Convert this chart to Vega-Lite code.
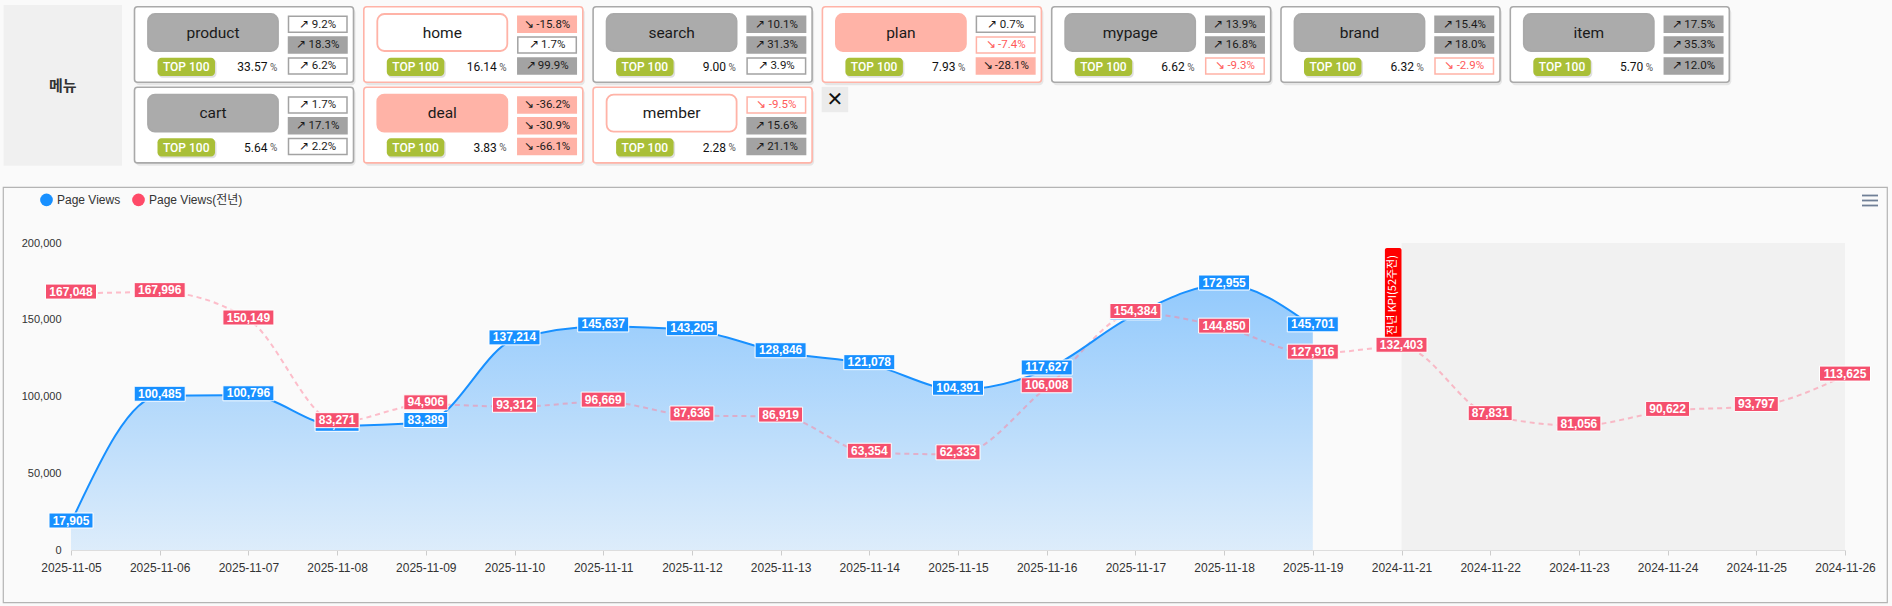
{
"$schema":"https://vega.github.io/schema/vega-lite/v6.json",
"width":1774,"height":307,
"autosize":{"type":"none"},
"padding":{"left":71,"top":243,"right":47,"bottom":56},
"background":"#fafafa",
"config":{
 "view":{"stroke":null},
 "font":"Liberation Sans",
 "axisX":{"labelAngle":0,"labelFontSize":12,"labelColor":"#333333","tickColor":"#cccccc","tickSize":5,"domainColor":"#dddddd","labelPadding":7.5,"grid":false,"labelOverlap":false,"labelFont":"Liberation Sans","labelBound":false},
 "axisY":{"labelFontSize":11,"labelColor":"#333333","domain":false,"ticks":false,"tickSize":0,"labelPadding":10,"grid":true,"gridDash":[3,3],"gridColor":"#e2e2e2","gridWidth":1,"labelFont":"Liberation Sans"}
},
"datasets":{
 "menus":[
  {"menu":"product","status":"up","share":33.57,"b1":9.2,"b2":18.3,"b3":6.2},
  {"menu":"home","status":"warn","share":16.14,"b1":-15.8,"b2":1.7,"b3":99.9},
  {"menu":"search","status":"up","share":9.00,"b1":10.1,"b2":31.3,"b3":3.9},
  {"menu":"plan","status":"down","share":7.93,"b1":0.7,"b2":-7.4,"b3":-28.1},
  {"menu":"mypage","status":"up","share":6.62,"b1":13.9,"b2":16.8,"b3":-9.3},
  {"menu":"brand","status":"up","share":6.32,"b1":15.4,"b2":18.0,"b3":-2.9},
  {"menu":"item","status":"up","share":5.70,"b1":17.5,"b2":35.3,"b3":12.0},
  {"menu":"cart","status":"up","share":5.64,"b1":1.7,"b2":17.1,"b3":2.2},
  {"menu":"deal","status":"down","share":3.83,"b1":-36.2,"b2":-30.9,"b3":-66.1},
  {"menu":"member","status":"warn","share":2.28,"b1":-9.5,"b2":15.6,"b3":21.1}
 ],
 "pv":[
  {"date":"2025-11-05","pv":17905,"prev":167048},
  {"date":"2025-11-06","pv":100485,"prev":167996},
  {"date":"2025-11-07","pv":100796,"prev":150149},
  {"date":"2025-11-08","pv":80900,"prev":83271},
  {"date":"2025-11-09","pv":83389,"prev":94906},
  {"date":"2025-11-10","pv":137214,"prev":93312},
  {"date":"2025-11-11","pv":145637,"prev":96669},
  {"date":"2025-11-12","pv":143205,"prev":87636},
  {"date":"2025-11-13","pv":128846,"prev":86919},
  {"date":"2025-11-14","pv":121078,"prev":63354},
  {"date":"2025-11-15","pv":104391,"prev":62333},
  {"date":"2025-11-16","pv":117627,"prev":106008},
  {"date":"2025-11-17","pv":153500,"prev":154384},
  {"date":"2025-11-18","pv":172955,"prev":144850},
  {"date":"2025-11-19","pv":145701,"prev":127916},
  {"date":"2024-11-21","prev":132403},
  {"date":"2024-11-22","prev":87831},
  {"date":"2024-11-23","prev":81056},
  {"date":"2024-11-24","prev":90622},
  {"date":"2024-11-25","prev":93797},
  {"date":"2024-11-26","prev":113625}
 ]
},
"layer":[
 {
  "layer":[
   {
    "data":{"values":[{"label":"메뉴"}]},
    "layer":[
     {"mark":{"type":"rect","fill":"#f0f0f0","xOffset":-130.9,"x2Offset":-12.5,"yOffset":-1.7,"y2Offset":78.4},
      "encoding":{
       "x":{"datum":0,"type":"quantitative","scale":{"domain":[0,6],"range":[63.5,1439.3],"zero":false,"nice":false},"axis":null},
       "x2":{"datum":0},
       "y":{"datum":0,"type":"quantitative","scale":{"domain":[0,1],"range":[-236.3,-155.7],"zero":false,"nice":false},"axis":null},
       "y2":{"datum":1}}},
     {"mark":{"type":"text","font":"Noto Sans CJK KR","fontSize":15,"fontWeight":"bold","fill":"#333333","xOffset":-71.8,"yOffset":79.3,"align":"center","baseline":"middle"},
      "encoding":{
       "x":{"datum":0,"type":"quantitative","scale":{"domain":[0,6],"range":[63.5,1439.3],"zero":false,"nice":false},"axis":null},
       "y":{"datum":0,"type":"quantitative","scale":{"domain":[0,1],"range":[-236.3,-155.7],"zero":false,"nice":false},"axis":null},
       "text":{"field":"label"}}}
    ]
   },
   {
    "data":{"name":"menus"},
    "transform":[
     {"window":[{"op":"row_number","as":"rk"}],"sort":[{"field":"share","order":"descending"}]},
     {"calculate":"(datum.rk-1)%7","as":"col"},
     {"calculate":"floor((datum.rk-1)/7)","as":"row"},
     {"calculate":"(datum.b1>=0?'↗\u2009':'↘\u2009-')+format(abs(datum.b1),'.1f')+'%'","as":"t1"},
     {"calculate":"(datum.b2>=0?'↗\u2009':'↘\u2009-')+format(abs(datum.b2),'.1f')+'%'","as":"t2"},
     {"calculate":"(datum.b3>=0?'↗\u2009':'↘\u2009-')+format(abs(datum.b3),'.1f')+'%'","as":"t3"}
    ],
    "encoding":{
     "x":{"field":"col","type":"quantitative","scale":{"domain":[0,6],"range":[63.5,1439.3],"zero":false,"nice":false},"axis":null},
     "y":{"field":"row","type":"quantitative","scale":{"domain":[0,1],"range":[-236.3,-155.7],"zero":false,"nice":false},"axis":null}
    },
    "layer":[
     {"mark":{"type":"rect","fill":"#000000","opacity":0.08,"cornerRadius":4,"xOffset":1,"x2Offset":221,"yOffset":2,"y2Offset":78.5},
      "encoding":{"x2":{"field":"col"},"y2":{"field":"row"}}},
     {"mark":{"type":"rect","fill":"#ffffff","cornerRadius":3,"strokeWidth":1.6,"xOffset":0,"x2Offset":219,"yOffset":0,"y2Offset":75.6},
      "encoding":{"x2":{"field":"col"},"y2":{"field":"row"},
       "stroke":{"field":"status","type":"nominal","scale":{"domain":["up","warn","down"],"range":["#a9a9a9","#ffb3a7","#ffb3a7"]},"legend":null}}},
     {"mark":{"type":"rect","cornerRadius":7,"strokeWidth":1.8,"xOffset":13.5,"x2Offset":143.5,"yOffset":7.3,"y2Offset":44.3},
      "encoding":{"x2":{"field":"col"},"y2":{"field":"row"},
       "fill":{"field":"status","type":"nominal","scale":{"domain":["up","warn","down"],"range":["#ababab","#ffffff","#ffb3a7"]},"legend":null},
       "stroke":{"field":"status","type":"nominal","scale":{"domain":["up","warn","down"],"range":["#a9a9a9","#ffb3a7","#ffb3a7"]},"legend":null}}},
     {"mark":{"type":"text","font":"Roboto","fontSize":15.5,"fill":"#1a1a1a","align":"center","baseline":"middle","xOffset":78.5,"yOffset":26},
      "encoding":{"text":{"field":"menu"}}},
     {"mark":{"type":"rect","strokeWidth":1.5,"xOffset":154,"x2Offset":212.5,"yOffset":9.6,"y2Offset":25.6},
      "encoding":{"x2":{"field":"col"},"y2":{"field":"row"},
       "fill":{"condition":[{"test":"datum.b1>=10","value":"#a3a3a3"},{"test":"datum.b1<=-10","value":"#ffb2a6"}],"value":"#ffffff"},
       "stroke":{"condition":[{"test":"datum.b1>=10","value":"#a3a3a3"},{"test":"datum.b1<0","value":"#ffb2a6"}],"value":"#a3a3a3"}}},
     {"mark":{"type":"rect","strokeWidth":1.5,"xOffset":154,"x2Offset":212.5,"yOffset":30.4,"y2Offset":46.4},
      "encoding":{"x2":{"field":"col"},"y2":{"field":"row"},
       "fill":{"condition":[{"test":"datum.b2>=10","value":"#a3a3a3"},{"test":"datum.b2<=-10","value":"#ffb2a6"}],"value":"#ffffff"},
       "stroke":{"condition":[{"test":"datum.b2>=10","value":"#a3a3a3"},{"test":"datum.b2<0","value":"#ffb2a6"}],"value":"#a3a3a3"}}},
     {"mark":{"type":"rect","strokeWidth":1.5,"xOffset":154,"x2Offset":212.5,"yOffset":51.2,"y2Offset":67.2},
      "encoding":{"x2":{"field":"col"},"y2":{"field":"row"},
       "fill":{"condition":[{"test":"datum.b3>=10","value":"#a3a3a3"},{"test":"datum.b3<=-10","value":"#ffb2a6"}],"value":"#ffffff"},
       "stroke":{"condition":[{"test":"datum.b3>=10","value":"#a3a3a3"},{"test":"datum.b3<0","value":"#ffb2a6"}],"value":"#a3a3a3"}}},
     {"mark":{"type":"text","font":"Roboto","fontSize":11.5,"align":"center","baseline":"middle","xOffset":183.3,"yOffset":17.8},
      "encoding":{"text":{"field":"t1"},"fill":{"condition":{"test":"datum.b1<0 && datum.b1>-10","value":"#ff5a5a"},"value":"#1a1a1a"}}},
     {"mark":{"type":"text","font":"Roboto","fontSize":11.5,"align":"center","baseline":"middle","xOffset":183.3,"yOffset":38.6},
      "encoding":{"text":{"field":"t2"},"fill":{"condition":{"test":"datum.b2<0 && datum.b2>-10","value":"#ff5a5a"},"value":"#1a1a1a"}}},
     {"mark":{"type":"text","font":"Roboto","fontSize":11.5,"align":"center","baseline":"middle","xOffset":183.3,"yOffset":59.4},
      "encoding":{"text":{"field":"t3"},"fill":{"condition":{"test":"datum.b3<0 && datum.b3>-10","value":"#ff5a5a"},"value":"#1a1a1a"}}},
     {"mark":{"type":"rect","fill":"#000000","opacity":0.12,"cornerRadius":4,"xOffset":24,"x2Offset":82,"yOffset":52.5,"y2Offset":71},
      "encoding":{"x2":{"field":"col"},"y2":{"field":"row"}}},
     {"mark":{"type":"rect","fill":"#a9bf37","cornerRadius":4,"xOffset":23,"x2Offset":80.5,"yOffset":51,"y2Offset":69.3},
      "encoding":{"x2":{"field":"col"},"y2":{"field":"row"}}},
     {"mark":{"type":"text","text":"TOP 100","font":"Roboto","fontSize":12,"fontWeight":500,"fill":"#ffffff","align":"center","baseline":"middle","xOffset":51.7,"yOffset":60.4}},
     {"mark":{"type":"text","font":"Roboto","fontSize":12,"fill":"#111111","align":"right","baseline":"middle","xOffset":133,"yOffset":60.5},
      "encoding":{"text":{"field":"share","type":"quantitative","format":".2f"}}},
     {"mark":{"type":"text","text":"%","font":"Roboto","fontSize":10,"fill":"#555555","align":"left","baseline":"middle","xOffset":135.5,"yOffset":61}}
    ]
   },
   {
    "data":{"values":[{"label":"✕"}]},
    "layer":[
     {"mark":{"type":"rect","fill":"#ebebeb","xOffset":-0.7,"x2Offset":25.8,"yOffset":-0.4,"y2Offset":24.9},
      "encoding":{
       "x":{"datum":3,"type":"quantitative","scale":{"domain":[0,6],"range":[63.5,1439.3],"zero":false,"nice":false},"axis":null},
       "x2":{"datum":3},
       "y":{"datum":1,"type":"quantitative","scale":{"domain":[0,1],"range":[-236.3,-155.7],"zero":false,"nice":false},"axis":null},
       "y2":{"datum":1}}},
     {"mark":{"type":"text","font":"DejaVu Sans","fontSize":20,"fill":"#111111","align":"center","baseline":"middle","xOffset":12.5,"yOffset":12.5},
      "encoding":{
       "x":{"datum":3,"type":"quantitative","scale":{"domain":[0,6],"range":[63.5,1439.3],"zero":false,"nice":false},"axis":null},
       "y":{"datum":1,"type":"quantitative","scale":{"domain":[0,1],"range":[-236.3,-155.7],"zero":false,"nice":false},"axis":null},
       "text":{"field":"label"}}}
    ]
   }
  ]
 },
 {
  "data":{"name":"pv"},
  "layer":[
   {"data":{"values":[{}]},
    "mark":{"type":"rect","fillOpacity":0,"stroke":"#b4b4b4","strokeWidth":1.2,"xOffset":-67.7,"x2Offset":42.3,"yOffset":-55.7,"y2Offset":52.7},
    "encoding":{
     "x":{"datum":"2025-11-05","type":"ordinal","scale":{"type":"point","padding":0,"domain":["2025-11-05","2025-11-06","2025-11-07","2025-11-08","2025-11-09","2025-11-10","2025-11-11","2025-11-12","2025-11-13","2025-11-14","2025-11-15","2025-11-16","2025-11-17","2025-11-18","2025-11-19","2024-11-21","2024-11-22","2024-11-23","2024-11-24","2024-11-25","2024-11-26"]},"axis":{"title":null}},
     "x2":{"datum":"2024-11-26"},
     "y":{"datum":200000,"type":"quantitative","scale":{"domain":[0,200000],"nice":false,"zero":true},"axis":{"title":null,"format":",d","values":[0,50000,100000,150000,200000]}},
     "y2":{"datum":0}}},
   {"data":{"values":[{}]},
    "mark":{"type":"rect","fill":"#000000","fillOpacity":0.035},
    "encoding":{
     "x":{"datum":"2024-11-21","type":"ordinal","scale":{"type":"point","padding":0,"domain":["2025-11-05","2025-11-06","2025-11-07","2025-11-08","2025-11-09","2025-11-10","2025-11-11","2025-11-12","2025-11-13","2025-11-14","2025-11-15","2025-11-16","2025-11-17","2025-11-18","2025-11-19","2024-11-21","2024-11-22","2024-11-23","2024-11-24","2024-11-25","2024-11-26"]},"axis":{"title":null}},
     "x2":{"datum":"2024-11-26"},
     "y":{"datum":200000,"type":"quantitative","scale":{"domain":[0,200000],"nice":false,"zero":true},"axis":{"title":null,"format":",d","values":[0,50000,100000,150000,200000]}},
     "y2":{"datum":0}}},
   {"transform":[{"filter":"isValid(datum.pv)"}],
    "mark":{"type":"area","interpolate":"monotone","fill":{"gradient":"linear","x1":0,"y1":0,"x2":0,"y2":1,"stops":[{"offset":0,"color":"rgba(24,144,255,0.46)"},{"offset":1,"color":"rgba(24,144,255,0.13)"}]}},
    "encoding":{
     "x":{"field":"date","type":"ordinal","title":null,"scale":{"type":"point","padding":0,"domain":["2025-11-05","2025-11-06","2025-11-07","2025-11-08","2025-11-09","2025-11-10","2025-11-11","2025-11-12","2025-11-13","2025-11-14","2025-11-15","2025-11-16","2025-11-17","2025-11-18","2025-11-19","2024-11-21","2024-11-22","2024-11-23","2024-11-24","2024-11-25","2024-11-26"]},"axis":{"title":null}},
     "y":{"field":"pv","type":"quantitative","title":null,"scale":{"domain":[0,200000],"nice":false,"zero":true},"axis":{"title":null,"format":",d","values":[0,50000,100000,150000,200000]}}}},
   {"mark":{"type":"line","interpolate":"monotone","stroke":"#ff7f99","strokeOpacity":0.5,"strokeWidth":2,"strokeDash":[5,4]},
    "encoding":{
     "x":{"field":"date","type":"ordinal","title":null,"scale":{"type":"point","padding":0,"domain":["2025-11-05","2025-11-06","2025-11-07","2025-11-08","2025-11-09","2025-11-10","2025-11-11","2025-11-12","2025-11-13","2025-11-14","2025-11-15","2025-11-16","2025-11-17","2025-11-18","2025-11-19","2024-11-21","2024-11-22","2024-11-23","2024-11-24","2024-11-25","2024-11-26"]},"axis":{"title":null}},
     "y":{"field":"prev","type":"quantitative","title":null,"scale":{"domain":[0,200000],"nice":false,"zero":true},"axis":{"title":null,"format":",d","values":[0,50000,100000,150000,200000]}}}},
   {"transform":[{"filter":"isValid(datum.pv)"}],
    "mark":{"type":"line","interpolate":"monotone","stroke":"#1890ff","strokeWidth":2},
    "encoding":{
     "x":{"field":"date","type":"ordinal","title":null,"scale":{"type":"point","padding":0,"domain":["2025-11-05","2025-11-06","2025-11-07","2025-11-08","2025-11-09","2025-11-10","2025-11-11","2025-11-12","2025-11-13","2025-11-14","2025-11-15","2025-11-16","2025-11-17","2025-11-18","2025-11-19","2024-11-21","2024-11-22","2024-11-23","2024-11-24","2024-11-25","2024-11-26"]},"axis":{"title":null}},
     "y":{"field":"pv","type":"quantitative","title":null,"scale":{"domain":[0,200000],"nice":false,"zero":true},"axis":{"title":null,"format":",d","values":[0,50000,100000,150000,200000]}}}},
   {"data":{"values":[{"t":"전년 KPI(52주전)"}]},
    "encoding":{
     "x":{"datum":"2024-11-21","type":"ordinal","scale":{"type":"point","padding":0,"domain":["2025-11-05","2025-11-06","2025-11-07","2025-11-08","2025-11-09","2025-11-10","2025-11-11","2025-11-12","2025-11-13","2025-11-14","2025-11-15","2025-11-16","2025-11-17","2025-11-18","2025-11-19","2024-11-21","2024-11-22","2024-11-23","2024-11-24","2024-11-25","2024-11-26"]},"axis":{"title":null}},
     "y":{"datum":200000,"type":"quantitative","scale":{"domain":[0,200000],"nice":false,"zero":true},"axis":{"title":null,"format":",d","values":[0,50000,100000,150000,200000]}}},
    "layer":[
     {"mark":{"type":"rect","fill":"#ff0000","cornerRadius":2,"xOffset":-16.6,"x2Offset":0,"yOffset":5,"y2Offset":99},
      "encoding":{"x2":{"datum":"2024-11-21"},"y2":{"datum":200000}}},
     {"mark":{"type":"text","angle":270,"font":"Noto Sans CJK KR","fontSize":11,"fill":"#ffffff","align":"center","baseline":"middle","xOffset":-8.3,"yOffset":52},
      "encoding":{"text":{"field":"t"}}}
    ]},
   {"transform":[{"filter":"isValid(datum.pv)"}],
    "encoding":{
     "x":{"field":"date","type":"ordinal","title":null,"scale":{"type":"point","padding":0,"domain":["2025-11-05","2025-11-06","2025-11-07","2025-11-08","2025-11-09","2025-11-10","2025-11-11","2025-11-12","2025-11-13","2025-11-14","2025-11-15","2025-11-16","2025-11-17","2025-11-18","2025-11-19","2024-11-21","2024-11-22","2024-11-23","2024-11-24","2024-11-25","2024-11-26"]},"axis":{"title":null}},
     "y":{"field":"pv","type":"quantitative","title":null,"scale":{"domain":[0,200000],"nice":false,"zero":true},"axis":{"title":null,"format":",d","values":[0,50000,100000,150000,200000]}}},
    "layer":[
     {"mark":{"type":"point","filled":true,"size":2500,"fill":"#1890ff","stroke":"#ffffff","strokeWidth":1,"opacity":1,"yOffset":-2},
      "encoding":{"shape":{"condition":{"test":"datum.pv>=100000","value":"M-1.02,-0.3H1.02V0.3H-1.02Z"},"value":"M-0.88,-0.3H0.88V0.3H-0.88Z"}}},
     {"mark":{"type":"text","fill":"#ffffff","fontWeight":"bold","fontSize":12,"font":"Liberation Sans","align":"center","baseline":"middle","yOffset":-2},
      "encoding":{"text":{"field":"pv","type":"quantitative","format":",d"}}}
    ]},
   {"encoding":{
     "x":{"field":"date","type":"ordinal","title":null,"scale":{"type":"point","padding":0,"domain":["2025-11-05","2025-11-06","2025-11-07","2025-11-08","2025-11-09","2025-11-10","2025-11-11","2025-11-12","2025-11-13","2025-11-14","2025-11-15","2025-11-16","2025-11-17","2025-11-18","2025-11-19","2024-11-21","2024-11-22","2024-11-23","2024-11-24","2024-11-25","2024-11-26"]},"axis":{"title":null}},
     "y":{"field":"prev","type":"quantitative","title":null,"scale":{"domain":[0,200000],"nice":false,"zero":true},"axis":{"title":null,"format":",d","values":[0,50000,100000,150000,200000]}}},
    "layer":[
     {"mark":{"type":"point","filled":true,"size":2500,"fill":"#f5506e","stroke":"#ffffff","strokeWidth":1,"opacity":1,"yOffset":-2},
      "encoding":{"shape":{"condition":{"test":"datum.prev>=100000","value":"M-1.02,-0.3H1.02V0.3H-1.02Z"},"value":"M-0.88,-0.3H0.88V0.3H-0.88Z"}}},
     {"mark":{"type":"text","fill":"#ffffff","fontWeight":"bold","fontSize":12,"font":"Liberation Sans","align":"center","baseline":"middle","yOffset":-2},
      "encoding":{"text":{"field":"prev","type":"quantitative","format":",d"}}}
    ]},
   {"data":{"values":[{}]},
    "encoding":{
     "x":{"datum":"2024-11-26","type":"ordinal","scale":{"type":"point","padding":0,"domain":["2025-11-05","2025-11-06","2025-11-07","2025-11-08","2025-11-09","2025-11-10","2025-11-11","2025-11-12","2025-11-13","2025-11-14","2025-11-15","2025-11-16","2025-11-17","2025-11-18","2025-11-19","2024-11-21","2024-11-22","2024-11-23","2024-11-24","2024-11-25","2024-11-26"]},"axis":{"title":null}},
     "x2":{"datum":"2024-11-26"},
     "y":{"datum":200000,"type":"quantitative","scale":{"domain":[0,200000],"nice":false,"zero":true},"axis":{"title":null,"format":",d","values":[0,50000,100000,150000,200000]}}},
    "layer":[
     {"mark":{"type":"rule","stroke":"#6f7f96","strokeWidth":1.8,"xOffset":17,"x2Offset":33,"yOffset":-47.5}},
     {"mark":{"type":"rule","stroke":"#6f7f96","strokeWidth":1.8,"xOffset":17,"x2Offset":33,"yOffset":-42.5}},
     {"mark":{"type":"rule","stroke":"#6f7f96","strokeWidth":1.8,"xOffset":17,"x2Offset":33,"yOffset":-37.5}}
    ]},
   {"data":{"values":[{"s":"Page Views"},{"s":"Page Views(전년)"}]},
    "mark":{"type":"point","filled":true,"shape":"circle","opacity":0},
    "encoding":{
     "color":{"field":"s","type":"nominal","scale":{"domain":["Page Views","Page Views(전년)"],"range":["#1890ff","#ff4a68"]},
      "legend":{"title":null,"orient":"none","legendX":-31,"legendY":-49.7,"direction":"horizontal","symbolType":"circle","symbolSize":161,"symbolOpacity":1,"symbolStrokeWidth":0,"labelFontSize":12,"labelColor":"#333333","labelFont":"Liberation Sans, Noto Sans CJK KR","labelOffset":4,"columnPadding":11,"padding":0}}}}
  ]
 }
],
"resolve":{"scale":{"x":"independent","y":"independent"}}
}
